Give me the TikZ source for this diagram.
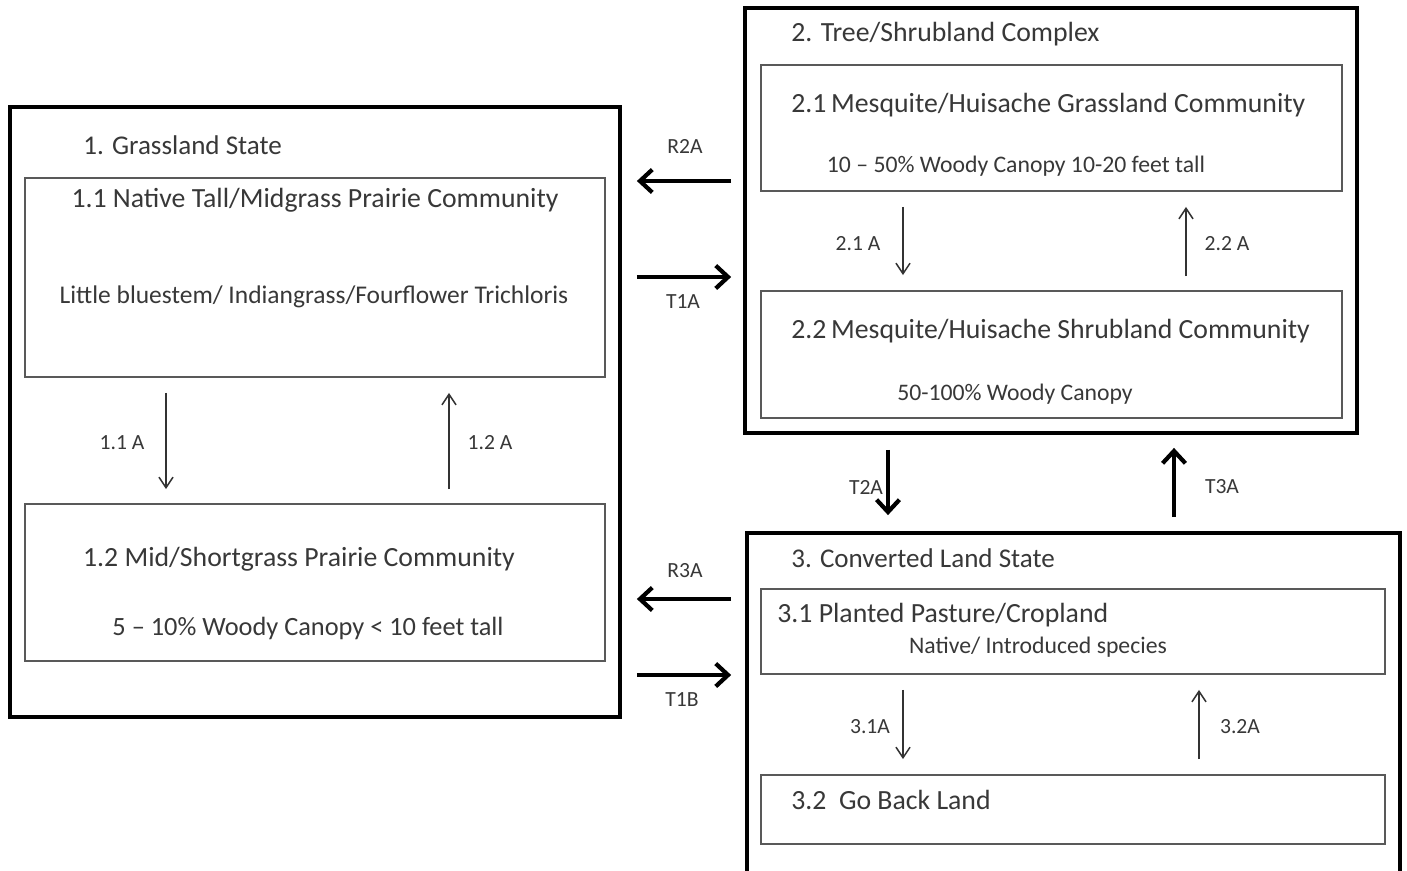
\documentclass[tikz,border=0pt]{standalone}
\usepackage{fontspec}
\setmainfont{Carlito}
\usetikzlibrary{arrows.meta,calc}
\definecolor{txt}{gray}{0.22}
\definecolor{inner}{gray}{0.35}
\tikzset{
  outerbox/.style={draw=black, line width=2.2pt, inner sep=0pt},
  innerbox/.style={draw=inner, line width=1.1pt, inner sep=0pt},
  ttl/.style={text=txt, font=\fontsize{15.8}{18}\selectfont, inner sep=0pt},
  sub/.style={text=txt, font=\fontsize{13.5}{16}\selectfont, inner sep=0pt},
  lbl/.style={text=txt, font=\fontsize{12.3}{14}\selectfont, inner sep=0pt},
  thinarrow/.style={draw=black!80, line width=0.85pt, -{Straight Barb[length=6pt,width=8pt]}},
  thickarrow/.style={draw=black, line width=2.4pt, -{Straight Barb[length=7pt,width=13pt,line width=2.4pt]}}
}
\begin{document}
\begin{tikzpicture}[x=0.02cm,y=-0.02cm]
\useasboundingbox (0,0) rectangle (1407,870);
\clip (0,0) rectangle (1407,870);
\fill[white] (0,0) rectangle (1407,870);
% state 1
\node[outerbox, minimum width=12.2cm, minimum height=12.2cm] (b1) at (315,412) {};
\node[innerbox, minimum width=11.6cm, minimum height=3.98cm] (b11) at (315,277.5) {};
\node[innerbox, minimum width=11.6cm, minimum height=3.14cm] (b12) at (315,582.5) {};
\node[ttl, anchor=west, font=\fontsize{15.4}{18}\selectfont] (t1) at (83,145) {1. Grassland State};
\node[ttl] (t11) at (315,200) {1.1 Native Tall/Midgrass Prairie Community};
\node[sub, font=\fontsize{14.5}{17}\selectfont] (s11) at (314,297) {Little bluestem/ Indiangrass/Fourflower Trichloris};
\node[ttl] (t12) at (299,559) {1.2 Mid/Shortgrass Prairie Community};
\node[ttl, font=\fontsize{15}{18}\selectfont] (s12) at (308,628) {5 – 10\% Woody Canopy < 10 feet tall};
\draw[thinarrow, shorten <=0.3cm, shorten >=0.28cm] (b11.south -| 166,0) -- (b12.north -| 166,0);
\draw[thinarrow, shorten <=0.28cm, shorten >=0.3cm] (b12.north -| 449,0) -- (b11.south -| 449,0);
\node[lbl] (l11) at (122,443) {1.1 A};
\node[lbl] (l12) at (490,443) {1.2 A};
% state 2
\node[outerbox, minimum width=12.24cm, minimum height=8.5cm] (b2) at (1051,220.5) {};
\node[innerbox, minimum width=11.62cm, minimum height=2.52cm] (b21) at (1051.5,128) {};
\node[innerbox, minimum width=11.62cm, minimum height=2.54cm] (b22) at (1051.5,354.5) {};
\node[ttl, anchor=west] (t2) at (791,34) {2. Tree/Shrubland Complex};
\node[ttl, anchor=west] (t21) at (791,105) {2.1\,Mesquite/Huisache Grassland Community};
\node[sub] (s21) at (1016,166) {10 – 50\% Woody Canopy 10-20 feet tall};
\node[ttl, anchor=west] (t22) at (791,331) {2.2\,Mesquite/Huisache Shrubland Community};
\node[sub] (s22) at (1015,394) {50-100\% Woody Canopy};
\draw[thinarrow, shorten <=0.3cm, shorten >=0.3cm] (b21.south -| 903,0) -- (b22.north -| 903,0);
\draw[thinarrow, shorten <=0.28cm, shorten >=0.3cm] (b22.north -| 1186,0) -- (b21.south -| 1186,0);
\node[lbl] (l21) at (858,244) {2.1 A};
\node[lbl] (l22) at (1227,244) {2.2 A};
% state 3
\node[outerbox, minimum width=13.06cm, minimum height=7.14cm] (b3) at (1073.5,711.5) {};
\node[innerbox, minimum width=12.48cm, minimum height=1.7cm] (b31) at (1073,631.5) {};
\node[innerbox, minimum width=12.48cm, minimum height=1.38cm] (b32) at (1073,809.5) {};
\node[ttl, anchor=west, font=\fontsize{15.4}{18}\selectfont] (t3) at (791,558) {3. Converted Land State};
\node[ttl, anchor=west] (t31) at (777,615) {3.1 Planted Pasture/Cropland};
\node[sub] (s31) at (1038,647) {Native/ Introduced species};
\node[ttl, anchor=west] (t32) at (791,800) {3.2\ \ Go Back Land};
\draw[thinarrow, shorten <=0.3cm, shorten >=0.3cm] (b31.south -| 903,0) -- (b32.north -| 903,0);
\draw[thinarrow, shorten <=0.3cm, shorten >=0.3cm] (b32.north -| 1199,0) -- (b31.south -| 1199,0);
\node[lbl] (l31) at (870,727) {3.1A};
\node[lbl] (l32) at (1240,727) {3.2A};
% transitions
\draw[thickarrow, shorten <=0.24cm, shorten >=0.3cm] (b2.west |- 0,181) -- (b1.east |- 0,181);
\draw[thickarrow, shorten <=0.3cm, shorten >=0.24cm] (b1.east |- 0,277) -- (b2.west |- 0,277);
\draw[thickarrow, shorten <=0.28cm, shorten >=0.3cm] (b3.west |- 0,599) -- (b1.east |- 0,599);
\draw[thickarrow, shorten <=0.3cm, shorten >=0.28cm] (b1.east |- 0,675) -- (b3.west |- 0,675);
\draw[thickarrow, shorten <=0.3cm, shorten >=0.32cm] (b2.south -| 888,0) -- (b3.north -| 888,0);
\draw[thickarrow, shorten <=0.28cm, shorten >=0.26cm] (b3.north -| 1174,0) -- (b2.south -| 1174,0);
\node[lbl] (r2a) at (685,146) {R2A};
\node[lbl] (t1a) at (683,302) {T1A};
\node[lbl] (r3a) at (685,571) {R3A};
\node[lbl] (t1b) at (682,700) {T1B};
\node[lbl] (t2a) at (866,487) {T2A};
\node[lbl] (t3a) at (1222,487) {T3A};
\end{tikzpicture}
\end{document}
